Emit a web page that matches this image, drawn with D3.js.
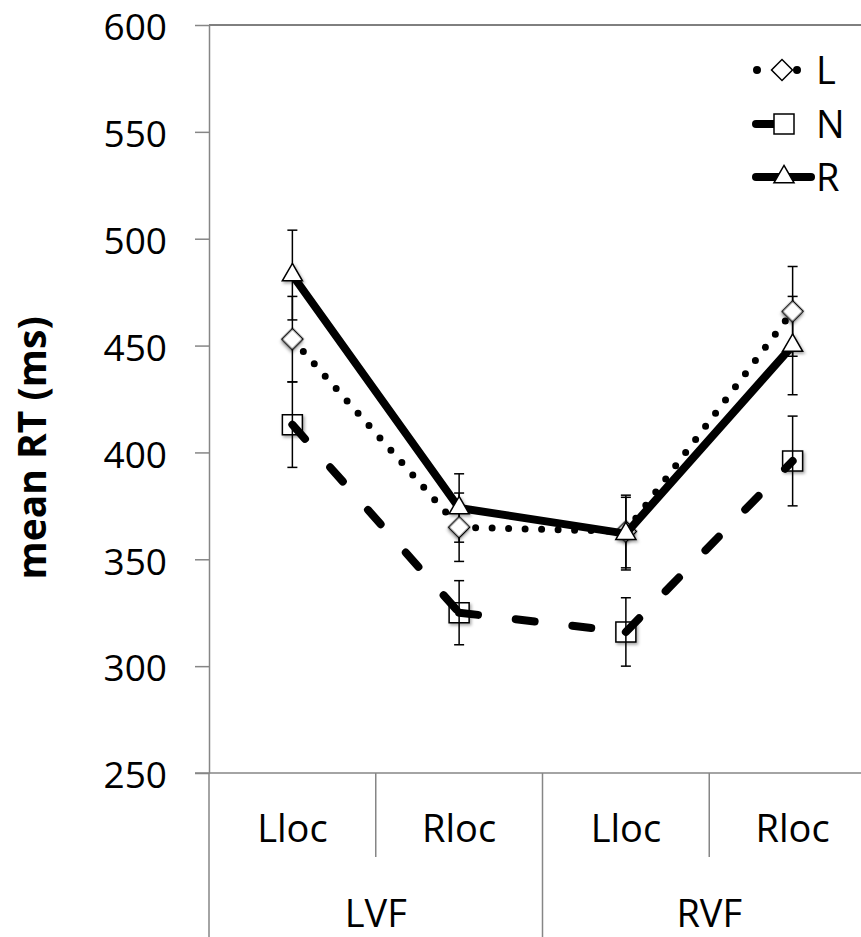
<!DOCTYPE html>
<html>
<head>
<meta charset="utf-8">
<script src="https://cdn.jsdelivr.net/npm/d3@7"></script>
<style>
  body { margin: 0; background: #fff; }
  svg { display: block; font-family: "Open Sans", sans-serif; }
</style>
</head>
<body>
<div id="chart"></div>
<script>
// data
const locations = ["Lloc", "Rloc", "Lloc", "Rloc"];
const fields = ["LVF", "RVF"];
const yTicks = [250, 300, 350, 400, 450, 500, 550, 600];
const seriesNames = ["L", "N", "R"];
const meanL = [453, 365, 363, 466];
const errL = [20, 16, 17, 21];
const meanN = [413, 325, 316, 396];
const errN = [20, 15, 16, 21];
const meanR = [483, 374, 362, 450];
const errR = [21, 16, 17, 23];

function drawChart() {
  const width = 861, height = 937;
  const left = 209, top = 25, bottom = 773, right = 876;
  const axisGray = "#868686";

  const svg = d3.select("#chart").append("svg")
    .attr("width", width)
    .attr("height", height);

  // drop shadow for the markers
  const filt = svg.append("defs").append("filter")
    .attr("id", "shadow")
    .attr("x", "-50%").attr("y", "-50%")
    .attr("width", "200%").attr("height", "200%");
  filt.append("feDropShadow")
    .attr("dx", 1.5).attr("dy", 2)
    .attr("stdDeviation", 1.5)
    .attr("flood-color", "#000")
    .attr("flood-opacity", 0.35);

  // SCALES
  const x = d3.scaleBand()
    .domain(d3.range(locations.length))
    .range([left, right])
    .padding(0);
  const cx = i => x(i) + x.bandwidth() / 2;

  const y = d3.scaleLinear()
    .domain([250, 600])
    .range([bottom, top]);

  // top border
  svg.append("line")
    .attr("x1", left).attr("x2", width)
    .attr("y1", y(600)).attr("y2", y(600))
    .attr("stroke", "#000").attr("stroke-width", 1);

  // Y AXIS
  const yAxis = svg.append("g")
    .attr("transform", `translate(${left},0)`)
    .call(d3.axisLeft(y).tickValues(yTicks).tickSize(14).tickSizeOuter(0).tickPadding(28));
  yAxis.select(".domain").attr("stroke", axisGray).attr("stroke-width", 1.5);
  yAxis.selectAll(".tick line").attr("stroke", axisGray).attr("stroke-width", 1.5);
  yAxis.selectAll(".tick text")
    .attr("font-family", "Open Sans")
    .attr("font-size", 37)
    .attr("fill", "#000")
    .attr("dy", "0.4em");

  // X AXIS: base line, dividers, two-level labels
  svg.append("line")
    .attr("x1", left - 14).attr("x2", width)
    .attr("y1", bottom).attr("y2", bottom)
    .attr("stroke", axisGray).attr("stroke-width", 1.5);

  const bounds = d3.range(locations.length + 1);
  svg.selectAll(".divider")
    .data(bounds)
    .join("line")
    .attr("class", "divider")
    .attr("x1", i => i < locations.length ? x(i) : right)
    .attr("x2", i => i < locations.length ? x(i) : right)
    .attr("y1", bottom)
    .attr("y2", i => i % 2 === 0 ? height : 857)
    .attr("stroke", axisGray).attr("stroke-width", 1.5);

  svg.selectAll(".loc-label")
    .data(locations)
    .join("text")
    .attr("class", "loc-label")
    .attr("x", (d, i) => cx(i))
    .attr("y", 842)
    .attr("text-anchor", "middle")
    .attr("font-size", 38)
    .text(d => d);

  svg.selectAll(".field-label")
    .data(fields)
    .join("text")
    .attr("class", "field-label")
    .attr("x", (d, g) => x(2 * g) + x.bandwidth())
    .attr("y", 927)
    .attr("text-anchor", "middle")
    .attr("font-size", 38)
    .text(d => d);

  // Y TITLE
  svg.append("text")
    .attr("transform", "translate(46,448) rotate(-90)")
    .attr("text-anchor", "middle")
    .attr("font-size", 39)
    .attr("font-weight", "bold")
    .text("mean RT (ms)");

  // SERIES
  const diamond = d3.symbol().type(d3.symbolSquare).size(220);
  const square = d3.symbol().type(d3.symbolSquare).size(400);
  const triangle = d3.symbol().type(d3.symbolTriangle).size(175);

  const series = [
    { name: "L", mean: meanL, err: errL, width: 7, dash: "0 16.5", shape: diamond, rot: 45, split: true },
    { name: "N", mean: meanN, err: errN, width: 8, dash: "19 38", shape: square, rot: 0, split: true },
    { name: "R", mean: meanR, err: errR, width: 8, dash: null, shape: triangle, rot: 0, split: false }
  ];

  const line = d3.line().x(d => cx(d.i)).y(d => y(d.v));

  function drawErrorBars(s) {
    const g = svg.append("g").attr("class", "err-" + s.name);
    const pts = s.mean.map((v, i) => ({ i, v, e: s.err[i] }));
    g.selectAll(".stem").data(pts).join("line")
      .attr("x1", d => cx(d.i)).attr("x2", d => cx(d.i))
      .attr("y1", d => y(d.v + d.e)).attr("y2", d => y(d.v - d.e))
      .attr("stroke", "#000").attr("stroke-width", 1.5);
    ["top", "bot"].forEach(k => {
      g.selectAll(".cap-" + k).data(pts).join("line")
        .attr("x1", d => cx(d.i) - 5).attr("x2", d => cx(d.i) + 5)
        .attr("y1", d => y(k === "top" ? d.v + d.e : d.v - d.e))
        .attr("y2", d => y(k === "top" ? d.v + d.e : d.v - d.e))
        .attr("stroke", "#000").attr("stroke-width", 1.5);
    });
  }

  function drawLine(s) {
    const pts = s.mean.map((v, i) => ({ i, v }));
    // dashes restart at every segment, like the original
    const segs = s.split ? d3.pairs(pts) : [pts];
    svg.append("g").selectAll("path").data(segs).join("path")
      .attr("d", line)
      .attr("fill", "none")
      .attr("stroke", "#000")
      .attr("stroke-width", s.width)
      .attr("stroke-linecap", "round")
      .attr("stroke-linejoin", "round")
      .attr("stroke-dasharray", s.dash);
  }

  function drawMarkers(s) {
    svg.append("g").selectAll("path").data(s.mean).join("path")
      .attr("d", s.shape)
      .attr("transform", (v, i) => `translate(${cx(i)},${y(v)}) rotate(${s.rot})`)
      .attr("fill", "#fff")
      .attr("stroke", "#000")
      .attr("stroke-width", 1.5)
      .attr("filter", "url(#shadow)");
  }

  const [sL, sN, sR] = series;
  drawErrorBars(sL);
  drawErrorBars(sR);
  drawLine(sL);
  drawMarkers(sL);
  drawLine(sR);
  drawMarkers(sR);
  drawMarkers(sN);
  drawErrorBars(sN);
  drawLine(sN);

  // LEGEND
  const legendY = [70, 124, 177];
  const legendSpan = { L: [757, 797.5], N: [756, 786], R: [756, 811] };
  const leg = svg.append("g").attr("class", "legend");
  series.forEach((s, k) => {
    const ly = legendY[k];
    const [a, b] = legendSpan[s.name];
    leg.append("line")
      .attr("x1", a).attr("x2", b).attr("y1", ly).attr("y2", ly)
      .attr("stroke", "#000")
      .attr("stroke-width", s.name === "L" ? 8 : s.width)
      .attr("stroke-linecap", "round")
      .attr("stroke-dasharray", s.name === "L" ? "0 20" : null);
    leg.append("path")
      .attr("d", s.shape)
      .attr("transform", `translate(${s.name === "L" ? 782 : 784},${ly}) rotate(${s.rot})`)
      .attr("fill", "#fff")
      .attr("stroke", "#000")
      .attr("stroke-width", 1.5);
    leg.append("text")
      .attr("x", 816)
      .attr("y", ly)
      .attr("dy", "0.36em")
      .attr("font-size", 38)
      .text(seriesNames[k]);
  });
}

document.addEventListener("DOMContentLoaded", drawChart);
</script>
</body>
</html>
